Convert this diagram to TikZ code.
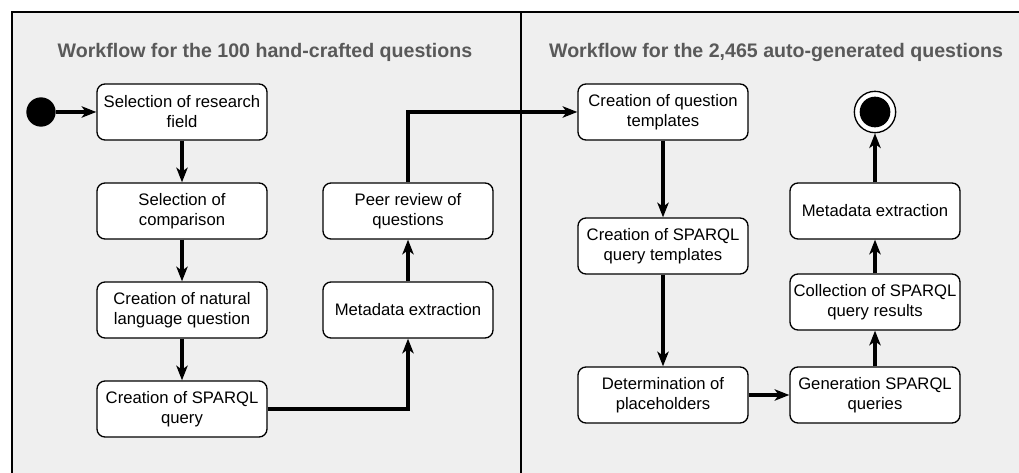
\documentclass[tikz,border=0pt]{standalone}
\usepackage{fontspec}
\setmainfont{Liberation Sans}
\usetikzlibrary{arrows.meta, positioning}
\definecolor{lanegray}{RGB}{239,239,239}
\definecolor{titlegray}{RGB}{89,89,89}

\begin{document}
\begin{tikzpicture}[x=0.75pt, y=-0.75pt,
    act/.style={draw, fill=white, rounded corners=6pt, line width=1pt,
      minimum width=127.5pt, minimum height=42pt, align=center, inner sep=1pt,
      font=\fontsize{12.5}{15}\selectfont},
    flow/.style={line width=2.3pt, -{Stealth[length=11pt, width=8.5pt, inset=3pt]}},
    lanetitle/.style={font=\fontsize{14.7}{17}\selectfont\bfseries, text=titlegray}]
  \useasboundingbox (0,0) rectangle (1019,473);
  % swimlanes
  \fill[lanegray] (12,12) rectangle (1019,473);
  \draw[line width=0.9pt] (12,473) -- (12,12) -- (1019,12);
  \draw[line width=0.9pt] (521,12) -- (521,473);
  \node[lanetitle] (titleA) at (265,52) {Workflow for the 100 hand-crafted questions};
  \node[lanetitle] (titleB) at (776,52) {Workflow for the 2,465 auto-generated questions};

  % hand-crafted
  \node[circle, fill=black, minimum size=22pt, inner sep=0pt] (start) at (41,112) {};
  \node[act] (field) at (182,112) {Selection of research\\field};
  \node[act] (comp) at (182,211) {Selection of\\comparison};
  \node[act] (natq) at (182,310) {Creation of natural\\language question};
  \node[act] (sparql) at (182,409) {Creation of SPARQL\\query};
  \node[act] (metaA) at (408,310) {Metadata extraction};
  \node[act] (review) at (408,211) {Peer review of\\questions};

  % auto-generated
  \node[act] (tmpl) at (663,112) {Creation of question\\templates};
  \node[act] (qtmpl) at (663,246) {Creation of SPARQL\\query templates};
  \node[act] (holders) at (663,395) {Determination of\\placeholders};
  \node[act] (gen) at (875,395) {Generation SPARQL\\queries};
  \node[act] (coll) at (875,302) {Collection of SPARQL\\query results};
  \node[act] (metaB) at (875,211) {Metadata extraction};
  \node[circle, draw, fill=white, line width=1pt, minimum size=31pt, inner sep=0pt,
    path picture={\fill[black] (path picture bounding box.center) circle (11.5pt);}]
    (stop) at (875,112) {};

  \draw[flow] (start) -- (field);
  \draw[flow] (field) -- (comp);
  \draw[flow] (comp) -- (natq);
  \draw[flow] (natq) -- (sparql);
  \draw[flow] (sparql.east) -| (metaA.south);
  \draw[flow] (metaA) -- (review);
  \draw[flow] (review.north) |- (tmpl.west);
  \draw[flow] (tmpl) -- (qtmpl);
  \draw[flow] (qtmpl) -- (holders);
  \draw[flow] (holders) -- (gen);
  \draw[flow] (gen) -- (coll);
  \draw[flow] (coll) -- (metaB);
  \draw[flow] (metaB) -- (stop);
\end{tikzpicture}
\end{document}
